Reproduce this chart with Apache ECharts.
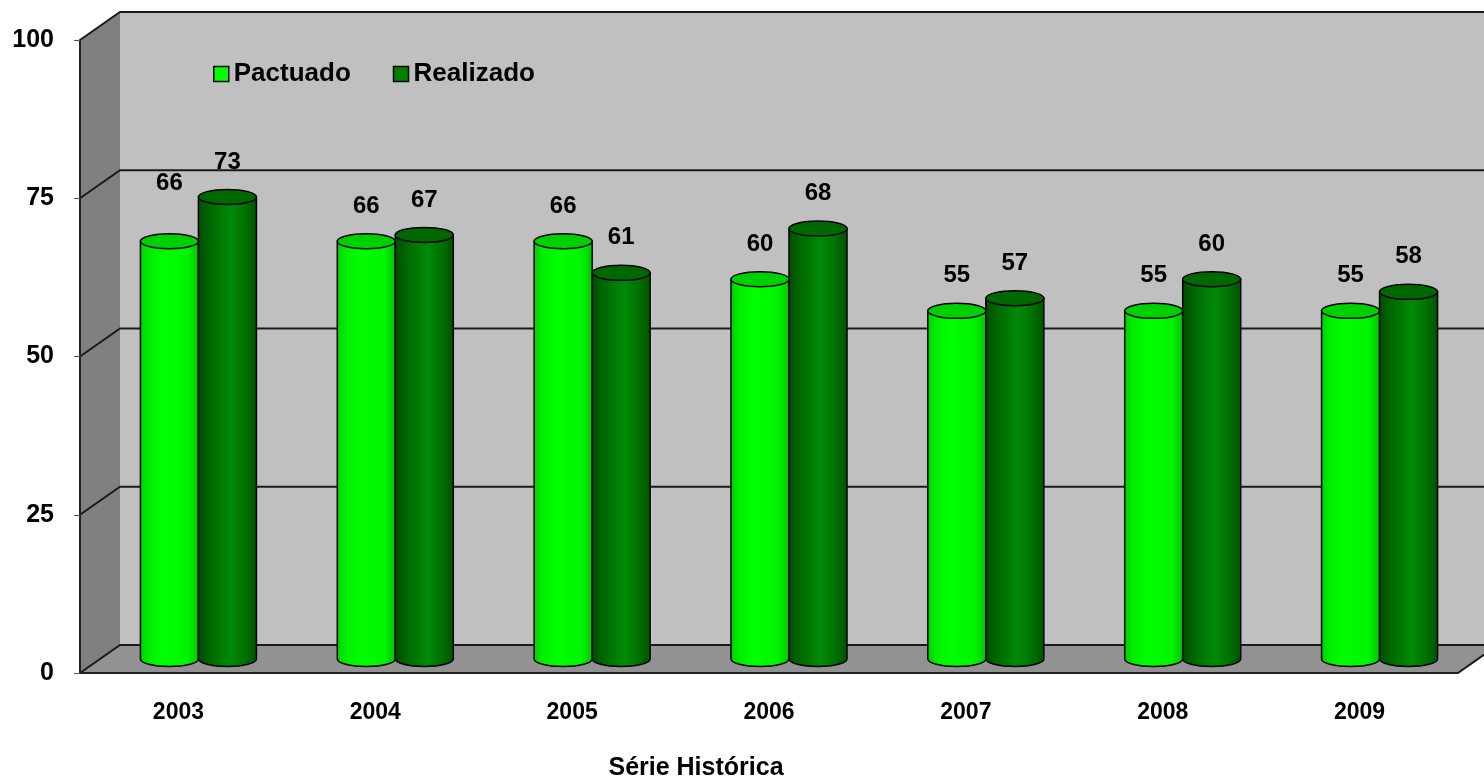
<!DOCTYPE html>
<html lang="pt">
<head>
    <meta charset="UTF-8">
    <title>Série Histórica</title>
    <script src="https://cdn.jsdelivr.net/npm/echarts@6/dist/echarts.min.js"></script>
    <style>
        html, body { margin: 0; padding: 0; background: #ffffff; }
        #chart { width: 1484px; height: 779px; }
    </style>
</head>
<body>
<div id="chart"></div>
<script>
    const years = ['2003', '2004', '2005', '2006', '2007', '2008', '2009'];
    const pactuado = [66, 66, 66, 60, 55, 55, 55];
    const realizado = [73, 67, 61, 68, 57, 60, 58];
    const yTicks = [0, 25, 50, 75, 100];

    const FONT = '"Liberation Sans", Arial, sans-serif';
    // oblique depth of the 3D box: back wall offset, bars sit half way
    const DEPTH_X = 40, DEPTH_Y = -28;
    const BAR_W = 58, RY = 7.5;

    const chart = echarts.init(document.getElementById('chart'));

    function wallsItem(params) {
        const cs = params.coordSys;
        const L = cs.x, R = cs.x + cs.width, T = cs.y, B = cs.y + cs.height;
        return {
            type: 'group',
            children: [
                { type: 'polygon', shape: { points: [[L, B], [L, T], [L + DEPTH_X, T + DEPTH_Y], [L + DEPTH_X, B + DEPTH_Y]] },
                  style: { fill: '#808080' } },
                { type: 'rect', shape: { x: L + DEPTH_X, y: T + DEPTH_Y, width: R - L + 10, height: B - T },
                  style: { fill: '#c0c0c0' } },
                { type: 'polygon', shape: { points: [[L, B], [R, B], [R + DEPTH_X, B + DEPTH_Y], [L + DEPTH_X, B + DEPTH_Y]] },
                  style: { fill: '#929292' } },
                { type: 'line', shape: { x1: R, y1: B, x2: R + DEPTH_X, y2: B + DEPTH_Y },
                  style: { stroke: '#1a1a1a', lineWidth: 2 } }
            ]
        };
    }

    function gridLineItem(params, api) {
        const cs = params.coordSys;
        const L = cs.x, R = cs.x + cs.width;
        const y = api.coord([0, api.value(1)])[1];
        return {
            type: 'polyline',
            shape: { points: [[L, y], [L + DEPTH_X, y + DEPTH_Y], [R + DEPTH_X + 20, y + DEPTH_Y]] },
            style: { stroke: '#1a1a1a', lineWidth: 2, fill: null }
        };
    }

    function cylinderRenderer(side, bodyStops, topColor, lifts) {
        return function (params, api) {
            const idx = api.value(0);
            const val = api.value(1);
            const top = api.coord([idx, val]);
            const base = api.coord([idx, 0]);
            const cx = top[0] + DEPTH_X / 2 + side * BAR_W / 2;
            const ty = top[1] + DEPTH_Y / 2;
            const by = base[1] + DEPTH_Y / 2;
            const rx = BAR_W / 2;
            const x0 = cx - rx, x1 = cx + rx;
            const body = 'M' + x0 + ' ' + ty + ' L' + x0 + ' ' + by +
                ' A' + rx + ' ' + RY + ' 0 0 0 ' + x1 + ' ' + by +
                ' L' + x1 + ' ' + ty + ' Z';
            const cap = 'M' + x0 + ' ' + ty +
                ' A' + rx + ' ' + RY + ' 0 1 0 ' + x1 + ' ' + ty +
                ' A' + rx + ' ' + RY + ' 0 1 0 ' + x0 + ' ' + ty + ' Z';
            const lift = lifts[params.dataIndex] || 35;
            return {
                type: 'group',
                children: [
                    { type: 'path', shape: { pathData: body },
                      style: { fill: new echarts.graphic.LinearGradient(0, 0, 1, 0, bodyStops), stroke: '#000', lineWidth: 1.5 } },
                    { type: 'path', shape: { pathData: cap },
                      style: { fill: topColor, stroke: '#000', lineWidth: 1.5 } },
                    { type: 'text',
                      style: { text: String(val), x: cx, y: ty - lift, align: 'center', verticalAlign: 'middle',
                               font: 'bold 24px ' + FONT, fill: '#000' } }
                ]
            };
        };
    }

    const option = {
        animation: false,
        backgroundColor: '#ffffff',
        grid: { left: 80, right: 26, top: 40, bottom: 106, containLabel: false, outerBoundsMode: 'none' },
        legend: {
            left: 208, top: 56,
            itemWidth: 15, itemHeight: 15, itemGap: 42,
            textStyle: { fontFamily: FONT, fontWeight: 'bold', fontSize: 26, color: '#000' },
            data: [
                { name: 'Pactuado', icon: 'rect', itemStyle: { color: '#00ff00', borderColor: '#000', borderWidth: 1.5 } },
                { name: 'Realizado', icon: 'rect', itemStyle: { color: '#008000', borderColor: '#000', borderWidth: 1.5 } }
            ]
        },
        xAxis: {
            type: 'category',
            data: years,
            z: 10,
            axisLine: { lineStyle: { color: '#222', width: 2 } },
            axisTick: { length: 6, lineStyle: { color: '#555' } },
            axisLabel: { fontFamily: FONT, fontWeight: 'bold', fontSize: 23, color: '#000', margin: 28 },
            name: 'Série Histórica',
            nameLocation: 'middle',
            nameGap: 83,
            nameTextStyle: { fontFamily: FONT, fontWeight: 'bold', fontSize: 25, color: '#000', padding: [0, 146, 0, 0] }
        },
        yAxis: {
            type: 'value',
            min: 0, max: 100, interval: 25,
            z: 10,
            splitLine: { show: false },
            axisLine: { show: true, lineStyle: { color: '#222', width: 2 } },
            axisTick: { show: true, length: 6, lineStyle: { color: '#555' } },
            axisLabel: { fontFamily: FONT, fontWeight: 'bold', fontSize: 25, color: '#000', margin: 26 }
        },
        series: [
            { type: 'custom', name: 'walls', z: 0, clip: false, silent: true,
              renderItem: wallsItem, data: [[0, 0]] },
            { type: 'custom', name: 'grid', z: 1, clip: false, silent: true,
              renderItem: gridLineItem, data: yTicks.map(v => [0, v]) },
            { type: 'custom', name: 'Pactuado', z: 3, clip: false,
              itemStyle: { color: '#00ff00' },
              renderItem: cylinderRenderer(-1, [
                  { offset: 0, color: '#00cc00' }, { offset: 0.15, color: '#00ee00' },
                  { offset: 0.4, color: '#00ff00' }, { offset: 0.8, color: '#00f400' },
                  { offset: 1, color: '#00c400' }], '#00cf00', { 0: 58 }),
              data: pactuado.map((v, i) => [i, v]) },
            { type: 'custom', name: 'Realizado', z: 3, clip: false,
              itemStyle: { color: '#008000' },
              renderItem: cylinderRenderer(1, [
                  { offset: 0, color: '#004a00' }, { offset: 0.2, color: '#006800' },
                  { offset: 0.55, color: '#008a08' }, { offset: 0.8, color: '#007000' },
                  { offset: 1, color: '#005000' }], '#006800', {}),
              data: realizado.map((v, i) => [i, v]) }
        ]
    };

    chart.setOption(option);
</script>
</body>
</html>
